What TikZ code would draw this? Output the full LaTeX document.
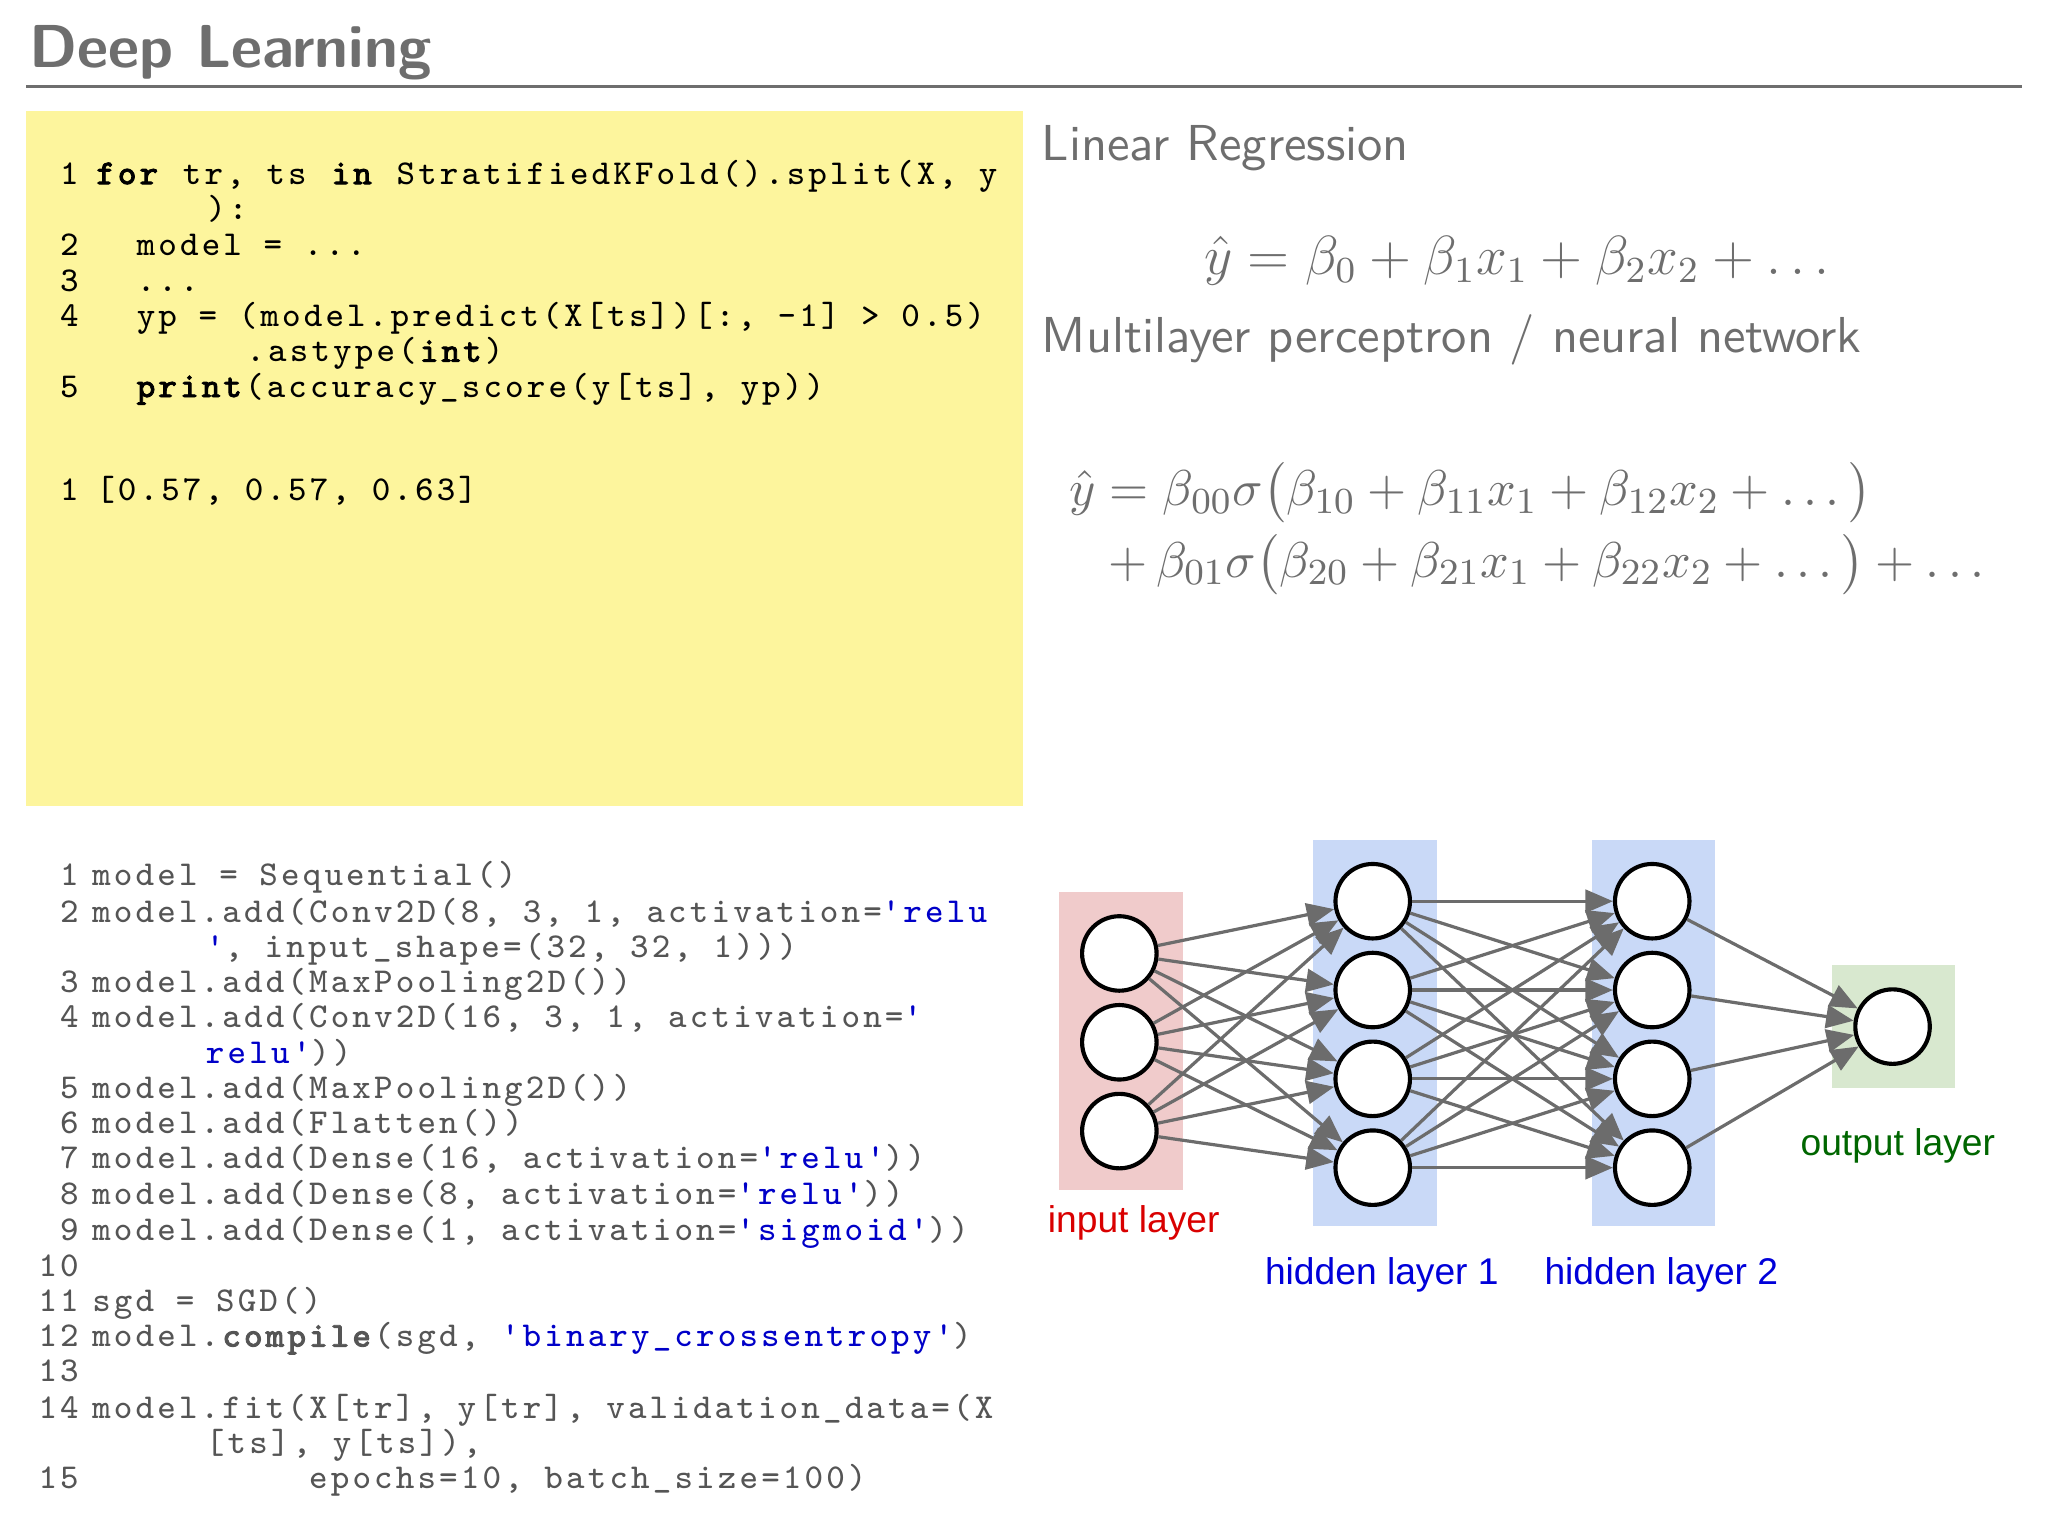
\documentclass[tikz,border=0pt]{standalone}
\usepackage{fontspec}
\usepackage{amsmath}
\setsansfont{Latin Modern Sans}
\newfontfamily\codefont[LetterSpace=9,BoldFont={Latin Modern Mono},BoldFeatures={FakeBold=2.5}]{Latin Modern Mono}
\newfontfamily\arialfont{Liberation Sans}
\usetikzlibrary{arrows.meta}
\definecolor{titlegray}{HTML}{6E6E6E}
\definecolor{codeblue}{HTML}{0000C8}
\definecolor{codegray}{HTML}{555555}
\definecolor{yell}{HTML}{FDF59D}
\definecolor{inred}{HTML}{F0CBCB}
\definecolor{hidblue}{HTML}{C9D9F7}
\definecolor{outgreen}{HTML}{D8E8CF}
\tikzset{
 cl/.style={anchor=base west,inner sep=0pt,font=\codefont\fontsize{7.6}{8}\selectfont},
 ln/.style={anchor=base east,inner sep=0pt,font=\codefont\fontsize{7.6}{8}\selectfont},
 neuron/.style={circle,draw=black,line width=0.9pt,fill=white,minimum size=0.57cm,inner sep=0pt},
 conn/.style={draw=gray!85!black,line width=0.7pt,-{Triangle[length=6pt,width=5pt]}},
 lay/.style={inner sep=0pt,font=\arialfont\fontsize{8.1}{9}\selectfont},
}
\begin{document}
\begin{tikzpicture}[x=0.01cm,y=-0.01cm]
\useasboundingbox (0,0) rectangle (1568,1176);
% title
\node[anchor=base west,inner sep=0pt,text=titlegray,font=\sffamily\bfseries\fontsize{13.2}{16}\selectfont] (title) at (22,52) {Deep Learning};
\draw[titlegray,line width=0.6pt] (20,66) -- (1548,66);
% yellow box
\fill[yell] (20,85) rectangle (783,617);
\begin{scope}[every node/.append style={text=black}]
\node[ln] at (61,141) {1}; \node[cl] (t1) at (73,141) {\textbf{for} tr, ts \textbf{in} StratifiedKFold().split(X, y};
\node[cl] at (158,168) {):};
\node[ln] at (61,196) {2}; \node[cl] at (104,196) {model = ...};
\node[ln] at (61,223) {3}; \node[cl] at (104,223) {...};
\node[ln] at (61,250) {4}; \node[cl] at (104,250) {yp = (model.predict(X[ts])[:, -1] > 0.5)};
\node[cl] at (188,277) {.astype(\textbf{int})};
\node[ln] at (61,304) {5}; \node[cl] at (104,304) {\textbf{print}(accuracy\_score(y[ts], yp))};
\node[ln] at (61,383) {1}; \node[cl] at (73,383) {[0.57, 0.57, 0.63]};
\end{scope}
% bottom code
\begin{scope}[every node/.append style={text=codegray}]
\def\s#1{\textcolor{codeblue}{#1}}
\node[ln] at (61,678) {1}; \node[cl] at (70,678) {model = Sequential()};
\node[ln] at (61,706) {2}; \node[cl] at (70,706) {model.add(Conv2D(8, 3, 1, activation=\s{'relu}};
\node[cl] at (157,733) {\s{'}, input\_shape=(32, 32, 1)))};
\node[ln] at (61,760) {3}; \node[cl] at (70,760) {model.add(MaxPooling2D())};
\node[ln] at (61,787) {4}; \node[cl] at (70,787) {model.add(Conv2D(16, 3, 1, activation=\s{'}};
\node[cl] at (157,814) {\s{relu'}))};
\node[ln] at (61,841) {5}; \node[cl] at (70,841) {model.add(MaxPooling2D())};
\node[ln] at (61,868) {6}; \node[cl] at (70,868) {model.add(Flatten())};
\node[ln] at (61,895) {7}; \node[cl] at (70,895) {model.add(Dense(16, activation=\s{'relu'}))};
\node[ln] at (61,922) {8}; \node[cl] at (70,922) {model.add(Dense(8, activation=\s{'relu'}))};
\node[ln] at (61,950) {9}; \node[cl] at (70,950) {model.add(Dense(1, activation=\s{'sigmoid'}))};
\node[ln] at (61,977) {10};
\node[ln] at (61,1004) {11}; \node[cl] at (70,1004) {sgd = SGD()};
\node[ln] at (61,1031) {12}; \node[cl] at (70,1031) {model.\textbf{compile}(sgd, \s{'binary\_crossentropy'})};
\node[ln] at (61,1058) {13};
\node[ln] at (61,1086) {14}; \node[cl] at (70,1086) {model.fit(X[tr], y[tr], validation\_data=(X};
\node[cl] at (157,1113) {[ts], y[ts]),};
\node[ln] at (61,1140) {15}; \node[cl] at (236,1140) {epochs=10, batch\_size=100)};
\end{scope}
% right text
\begin{scope}[every node/.append style={text=titlegray,inner sep=0pt}]
\node[anchor=base west,font=\sffamily\fontsize{11}{12}\selectfont] (lr) at (797,123) {Linear Regression};
\node[anchor=base,font=\fontsize{11.5}{14}\selectfont] (e1) at (1165,210) {$\hat y = \beta_0 + \beta_1 x_1 + \beta_2 x_2 + \dots$};
\node[anchor=base west,font=\sffamily\fontsize{11}{12}\selectfont] (mlp) at (797,270) {Multilayer perceptron / neural network};
\node[anchor=base west,font=\fontsize{11}{14}\selectfont] (e2) at (818,387) {$\hat y = \beta_{00}\sigma\bigl(\beta_{10} + \beta_{11}x_1 + \beta_{12}x_2 + \dots\bigr)$};
\node[anchor=base west,font=\fontsize{11}{14}\selectfont] (e3) at (848,442) {$+\, \beta_{01}\sigma\bigl(\beta_{20} + \beta_{21}x_1 + \beta_{22}x_2 + \dots\bigr) + \dots$};
\end{scope}
% network
\fill[inred] (811,683) rectangle (906,911);
\fill[hidblue] (1005,643) rectangle (1100,939);
\fill[hidblue] (1219,643) rectangle (1313,939);
\fill[outgreen] (1403,739) rectangle (1497,833);
\foreach \i/\y in {1/730,2/798,3/866} \node[neuron] (i\i) at (857,\y) {};
\foreach \i/\y in {1/690,2/758,3/826,4/894} {
 \node[neuron] (a\i) at (1051,\y) {};
 \node[neuron] (b\i) at (1265,\y) {};
}
\node[neuron] (o) at (1449,786) {};
\foreach \i in {1,2,3} \foreach \j in {1,...,4} \draw[conn] (i\i) -- (a\j);
\foreach \i in {1,...,4} \foreach \j in {1,...,4} \draw[conn] (a\i) -- (b\j);
\foreach \i in {1,...,4} \draw[conn] (b\i) -- (o);
\node[lay,text=red!85!black] (lin) at (868,936) {input layer};
\node[lay,text=blue!85!black] (lh1) at (1058,976) {hidden layer 1};
\node[lay,text=blue!85!black] (lh2) at (1272,976) {hidden layer 2};
\node[lay,text=green!40!black] (lout) at (1453,877) {output layer};
\end{tikzpicture}
\end{document}
